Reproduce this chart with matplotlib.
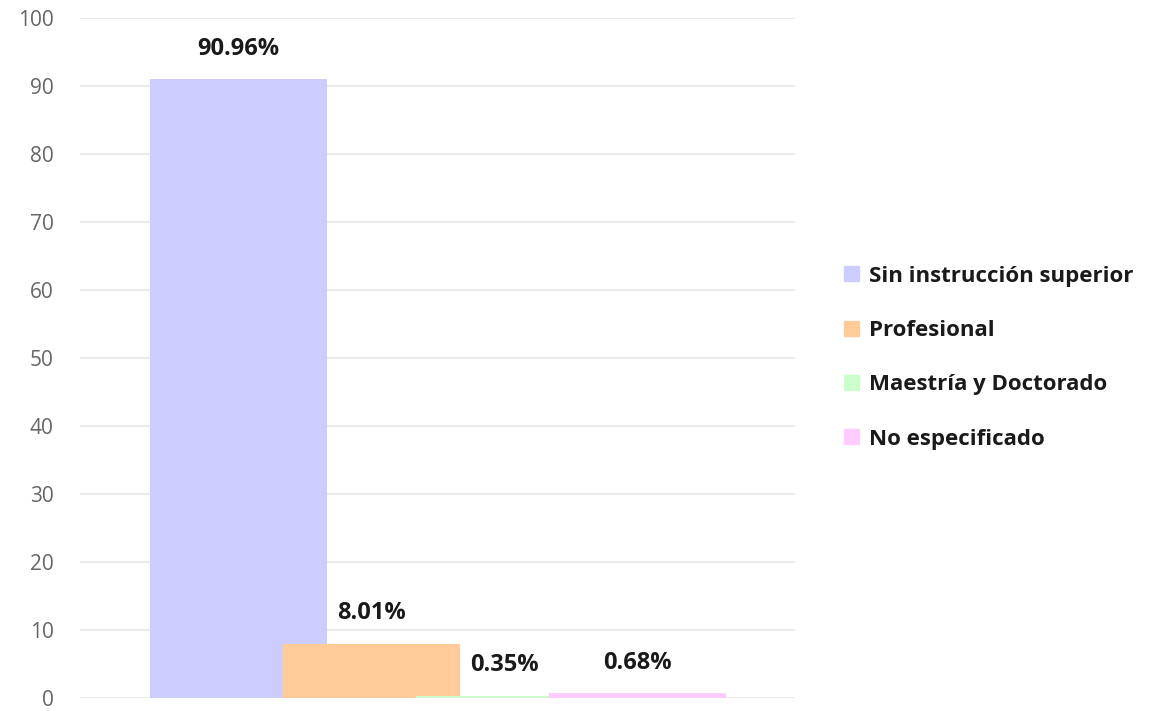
import matplotlib.pyplot as plt
from matplotlib.patches import Patch

categorias = ["Sin instrucción superior", "Profesional", "Maestría y Doctorado", "No especificado"]
valores = [90.96, 8.01, 0.35, 0.68]
etiquetas = ["90.96%", "8.01%", "0.35%", "0.68%"]
colores = ["#CCCCFF", "#FFCC99", "#CCFFCC", "#FFCCFF"]

plt.rcParams['font.family'] = ['Open Sans', 'DejaVu Sans']

fig = plt.figure(figsize=(11.52, 7.11), dpi=100)
ax = fig.add_axes([0.0694, 0.0183, 0.6207, 0.9564])

ancho = 1.33
for i in range(len(valores)):
    ax.bar(i, valores[i], width=ancho, color=colores[i], zorder=2 + i)
    ax.annotate(etiquetas[i], (i, valores[i]), xytext=(0, 22), textcoords="offset points",
                ha="center", va="center", fontsize=17, fontweight="bold", color="#1a1a1a")

ax.set_xlim(-1.192, 4.184)
ax.set_ylim(0, 100)
ax.set_yticks(range(0, 101, 10))
ax.yaxis.grid(True, color="#ebebeb", linewidth=1.5, zorder=0)
ax.set_axisbelow(True)
ax.set_xticks([])
for s in ax.spines.values():
    s.set_visible(False)
ax.tick_params(axis="y", length=0, pad=19, labelsize=15, labelcolor="#666666")

handles = [Patch(color=c) for c in colores]
fig.legend(handles, categorias, loc="center left", bbox_to_anchor=(0.7156, 0.497), frameon=False,
           prop={"size": 16, "weight": "bold"}, handlelength=0.68, handleheight=0.68,
           handletextpad=0.45, labelspacing=1.5, labelcolor="#1a1a1a")

fig.savefig("out.png", dpi=100)
